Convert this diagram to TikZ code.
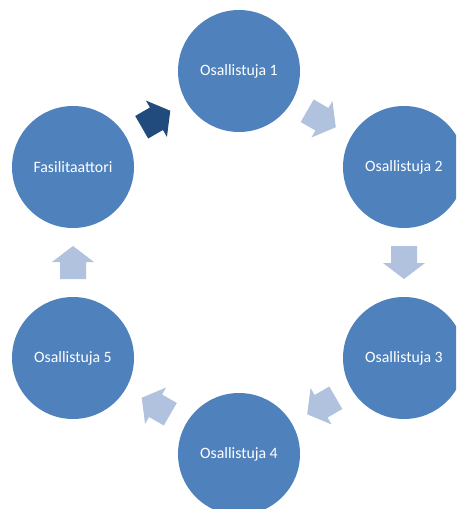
\documentclass[tikz,border=0pt]{standalone}
\usepackage{fontspec}
\setmainfont{Carlito}
\usetikzlibrary{calc}
\definecolor{circblue}{HTML}{4F81BD}
\definecolor{lightarrow}{HTML}{B0C2DD}
\definecolor{darkarrow}{HTML}{214A7D}
\tikzset{
  person/.style={circle, fill=circblue, minimum size=122pt, inner sep=0pt,
    text=white, font=\fontsize{15.8}{18}\selectfont},
  blockarrow/.pic={
    \fill[pic actions] (-16.5,-13) -- (0.5,-13) -- (0.5,-21) -- (16.5,0) -- (0.5,21) -- (0.5,13) -- (-16.5,13) -- cycle;
  }
}
\begin{document}
\begin{tikzpicture}[x=1pt,y=-1pt]
\useasboundingbox (0,0) rectangle (456,509);
\clip (0,0) rectangle (456,509);
\node[person] (o1) at (239,71) {Osallistuja 1};
\node[person] (o2) at (404,167) {Osallistuja 2};
\node[person] (o3) at (404,358) {Osallistuja 3};
\node[person] (o4) at (239,454) {Osallistuja 4};
\node[person] (o5) at (73,358) {Osallistuja 5};
\node[person] (f) at (73,167) {Fasilitaattori};
\pic[fill=darkarrow, rotate=30] at ($(f)!0.5!(o1)$) {blockarrow};
\pic[fill=lightarrow, rotate=-30] at ($(o1)!0.5!(o2)$) {blockarrow};
\pic[fill=lightarrow, rotate=-90] at ($(o2)!0.5!(o3)$) {blockarrow};
\pic[fill=lightarrow, rotate=-150] at ($(o3)!0.5!(o4)$) {blockarrow};
\pic[fill=lightarrow, rotate=150] at ($(o4)!0.5!(o5)$) {blockarrow};
\pic[fill=lightarrow, rotate=90] at ($(o5)!0.5!(f)$) {blockarrow};
\end{tikzpicture}
\end{document}
